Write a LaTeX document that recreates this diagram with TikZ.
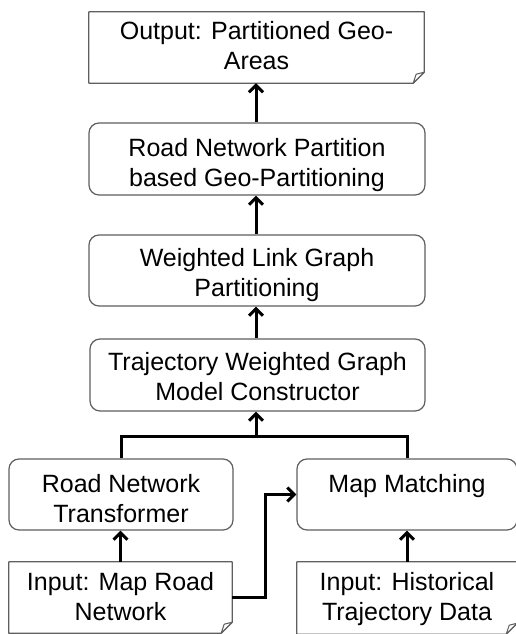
\documentclass[tikz,border=0pt]{standalone}
\usepackage{fontspec}
\setmainfont{Liberation Sans}
\usetikzlibrary{arrows.meta}
\definecolor{boxline}{RGB}{95,95,95}
\tikzset{
  rbox/.style={draw=boxline, line width=1.2pt, rounded corners=10pt, fill=white, inner sep=0pt},
  dbox/.style={inner sep=0pt},
  txt/.style={font=\fontsize{25}{30}\selectfont, align=center, inner sep=0pt},
  conn/.style={line width=3pt, black},
  arr/.style={conn, -{Straight Barb[length=7pt,width=14pt]}},
}
\newcommand\docframe[1]{%
  \draw[boxline, line width=1.2pt, fill=white, line join=round]
    (#1.north west) -- (#1.north east) -- ([yshift=11pt]#1.south east)
    -- ([xshift=-11pt]#1.south east) -- (#1.south west) -- cycle;
  \draw[boxline, line width=1pt, fill=white, line join=round]
    ([xshift=-11pt]#1.south east) -- ([xshift=-8pt,yshift=9pt]#1.south east)
    -- ([yshift=11pt]#1.south east) -- cycle;
}
\begin{document}
\begin{tikzpicture}[x=1pt,y=-1pt]
\useasboundingbox (0,0) rectangle (516,634);
\clip (0,0) rectangle (516,634);
% boxes
\node[dbox, minimum width=335pt, minimum height=71pt] (out) at (256.5,47.5) {};
\docframe{out}
\node[rbox, minimum width=336pt, minimum height=72pt] (b2) at (257,159) {};
\node[rbox, minimum width=336pt, minimum height=71pt] (b3) at (257,270.5) {};
\node[rbox, minimum width=335pt, minimum height=72pt] (b4) at (257.5,375) {};
\node[rbox, minimum width=224pt, minimum height=71pt] (rnt) at (121,494.5) {};
\node[rbox, minimum width=220pt, minimum height=71pt] (mm) at (407,494.5) {};
\node[dbox, minimum width=223pt, minimum height=71pt] (in1) at (120.5,597.5) {};
\docframe{in1}
\node[dbox, minimum width=220pt, minimum height=72pt] (in2) at (407,598) {};
\docframe{in2}
% texts
\node[txt] (tout) at (256.5,49) {\strut Output: Partitioned Geo-\\\strut Areas};
\node[txt] (tb2) at (257,165) {\strut Road Network Partition\\\strut based Geo-Partitioning};
\node[txt] (tb3) at (257,275.5) {\strut Weighted Link Graph\\\strut Partitioning};
\node[txt] (tb4) at (257.5,379.5) {\strut Trajectory Weighted Graph\\\strut Model Constructor};
\node[txt] (trnt) at (121,501) {\strut Road Network\\\strut Transformer};
\node[txt] (tmm) at (407,486) {\strut Map Matching};
\node[txt] (tin1) at (120.5,599) {\strut Input: Map Road\\\strut Network};
\node[txt] (tin2) at (407,599) {\strut Input: Historical\\\strut Trajectory Data};
% connectors
\coordinate (j) at (256,436);
\draw[arr] (b2.north -| 256,0) -- (256,0 |- out.south);
\draw[arr] (b3.north -| 256,0) -- (256,0 |- b2.south);
\draw[arr] (b4.north -| 256,0) -- (256,0 |- b3.south);
\draw[conn, line join=miter] (rnt.north) |- (j) -| (mm.north);
\draw[arr] (j) -- (j |- b4.south);
\draw[arr] (in1.north) -- (in1.north |- rnt.south);
\draw[arr] (in2.north) -- (in2.north |- mm.south);
\draw[arr, line join=miter] (in1.east) -- ++(33,0) |- (mm.west);
\end{tikzpicture}
\end{document}
